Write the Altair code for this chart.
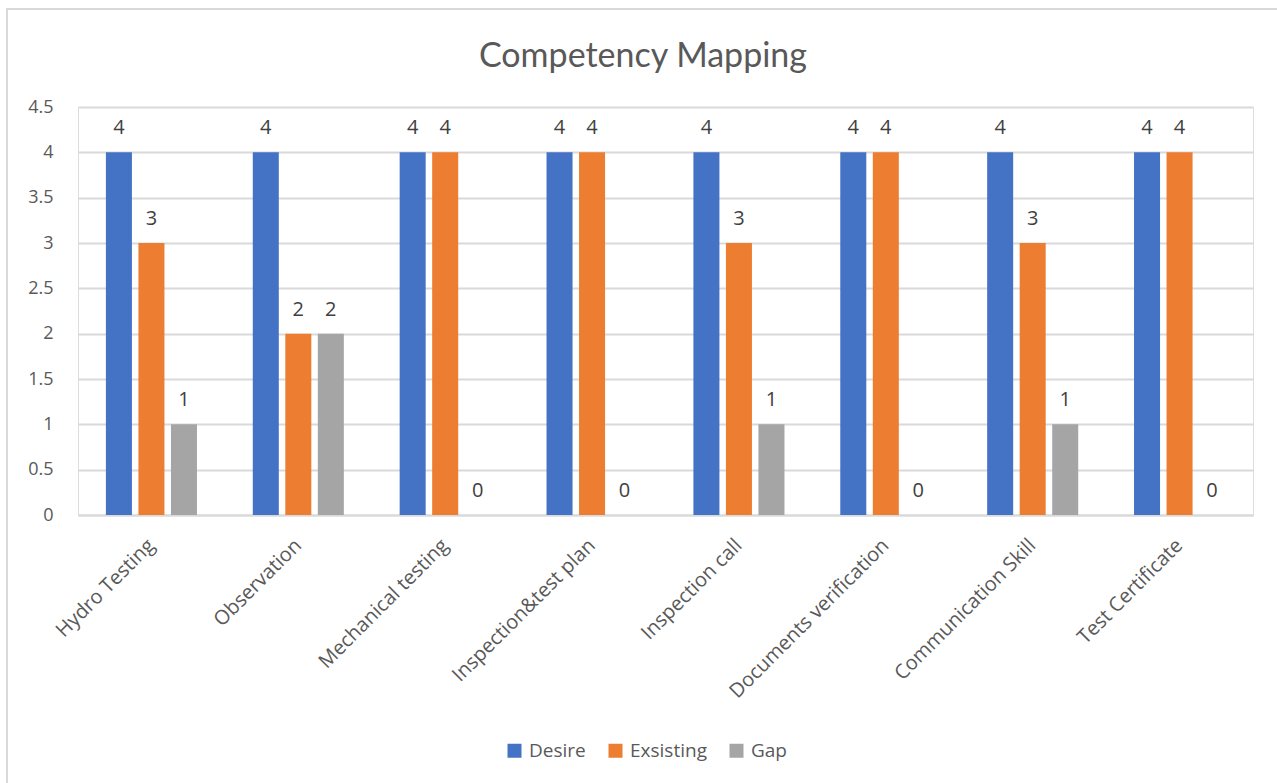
import altair as alt
import pandas as pd

categories = [
    "Hydro Testing",
    "Observation",
    "Mechanical testing",
    "Inspection&test plan",
    "Inspection call",
    "Documents verification",
    "Communication Skill",
    "Test Certificate",
]
series_names = ["Desire", "Exsisting", "Gap"]
desire = [4, 4, 4, 4, 4, 4, 4, 4]
existing = [3, 2, 4, 4, 3, 4, 3, 4]
gap = [1, 2, 0, 0, 1, 0, 1, 0]
series_colors = ["#4472C4", "#ED7D31", "#A5A5A5"]
chart_title = "Competency Mapping"

rows = []
for name, values in zip(series_names, [desire, existing, gap]):
    for cat, v in zip(categories, values):
        rows.append({"Skill": cat, "Series": name, "Value": v})
df = pd.DataFrame(rows)

TEXT = "#595959"
GRID = "#D9D9D9"
FONT = "Open Sans"

W, H = 1175, 408

x_enc = alt.X(
    "Skill:N",
    sort=categories,
    title=None,
    scale=alt.Scale(paddingInner=0.38, paddingOuter=0.19),
    axis=alt.Axis(
        labelAngle=-45,
        labelAlign="right",
        labelBaseline="middle",
        labelFontSize=20,
        labelFont=FONT,
        labelColor=TEXT,
        labelPadding=27,
        labelLimit=0,
        ticks=False,
        domainColor=GRID,
        domainWidth=2,
        grid=False,
    ),
)
xoff_enc = alt.XOffset(
    "Series:N", sort=series_names, scale=alt.Scale(paddingInner=0.2, paddingOuter=0)
)
y_enc = alt.Y(
    "Value:Q",
    title=None,
    scale=alt.Scale(domain=[0, 4.5], nice=False),
    axis=alt.Axis(
        values=[0, 0.5, 1, 1.5, 2, 2.5, 3, 3.5, 4, 4.5],
        format="~g",
        labelFontSize=18,
        labelFont=FONT,
        labelColor=TEXT,
        labelPadding=25,
        ticks=False,
        domain=False,
        gridColor=GRID,
        gridWidth=2,
    ),
)

base = alt.Chart(df)

bars = base.mark_bar().encode(
    x=x_enc,
    xOffset=xoff_enc,
    y=y_enc,
    color=alt.Color(
        "Series:N",
        sort=series_names,
        scale=alt.Scale(domain=series_names, range=series_colors),
        legend=alt.Legend(
            title=None,
            orient="none",
            legendX=427,
            legendY=634,
            direction="horizontal",
            symbolType="square",
            symbolSize=196,
            symbolStrokeWidth=0,
            labelFontSize=19,
            labelFont=FONT,
            labelColor=TEXT,
            labelOffset=5,
            columnPadding=20,
        ),
    ),
)

labels = base.mark_text(
    fontSize=20, font=FONT, color="#404040", baseline="alphabetic", dy=-18
).encode(
    x=alt.X("Skill:N", sort=categories),
    xOffset=alt.XOffset("Series:N", sort=series_names),
    y=alt.Y("Value:Q"),
    text=alt.Text("Value:Q"),
)

# Outer chart frame and centred heading, positioned relative to the plot area
frame = alt.Chart(pd.DataFrame({"k": [0]})).mark_rect(
    filled=False, stroke=GRID, strokeWidth=2
).encode(
    x=alt.value(-71),
    x2=alt.value(W + 40),
    y=alt.value(-98),
    y2=alt.value(H + 300),
)

heading = alt.Chart(pd.DataFrame({"t": [chart_title]})).mark_text(
    font="Lato", fontSize=34, color=TEXT, align="center", baseline="alphabetic"
).encode(
    x=alt.value(565),
    y=alt.value(-40),
    text="t:N",
)

chart = (
    alt.layer(frame, bars, labels, heading)
    .properties(
        width=W,
        height=H,
        padding={"left": 78, "top": 107, "right": 24, "bottom": 268},
        autosize=alt.AutoSizeParams(type="none"),
    )
    .configure_view(stroke=None)
    .configure(background="white")
)

chart.save("out.html", embed_options={"renderer": "svg", "actions": False})
